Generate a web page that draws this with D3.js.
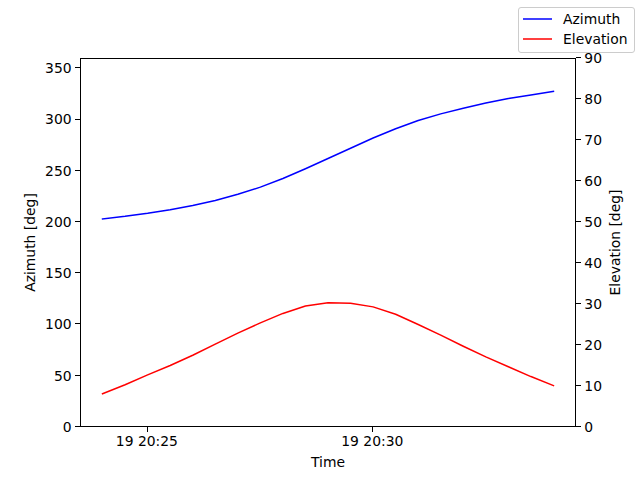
<!DOCTYPE html>
<html><head><meta charset="utf-8">
<script src="https://cdn.jsdelivr.net/npm/d3@7"></script>
<style>
body{margin:0;background:#fff;}
text{font-family:"DejaVu Sans",sans-serif;}
</style></head>
<body><svg id="c" width="640" height="480"></svg>
<script>
// time samples on 2000-01-19, every 30 s
const times = ["20:24:01","20:24:31","20:25:01","20:25:31","20:26:01","20:26:31","20:27:01","20:27:31","20:28:01","20:28:31","20:29:01","20:29:31","20:30:01","20:30:31","20:31:01","20:31:31","20:32:01","20:32:31","20:33:01","20:33:31","20:34:01"];
const azimuth = [203,205.5,208.5,212,216,221,227,234,242.5,252,262,272,282,291,299,305.5,311,316,320.5,324,327.5];
const elevation = [8.1,10.3,12.7,15.0,17.5,20.2,22.9,25.4,27.7,29.5,30.3,30.2,29.3,27.5,25.0,22.4,19.7,17.1,14.7,12.3,10.1];
const azTicks = [0,50,100,150,200,250,300,350];
const elTicks = [0,10,20,30,40,50,60,70,80,90];
const xTicks = ["20:25:00","20:30:00"];
const xTickLabels = ["19 20:25","19 20:30"];

const parse = s => new Date("2000-01-19T" + s);
const tdata = times.map(parse);
const svg = d3.select("#c");
const L=80, R=576, T=58, B=427;
const fs = 13.9;
const t0 = tdata[0], t1 = tdata[tdata.length-1];
const span = t1 - t0;
const x = d3.scaleTime().domain([new Date(+t0 - span*0.05), new Date(+t1 + span*0.05)]).range([L,R]);
const yA = d3.scaleLinear().domain([0,360]).range([B,T]);
const yE = d3.scaleLinear().domain([0,90]).range([B,T]);

// lines
const lineA = d3.line().x((d,i)=>x(tdata[i])).y(d=>yA(d));
const lineE = d3.line().x((d,i)=>x(tdata[i])).y(d=>yE(d));
svg.append("path").attr("d", lineA(azimuth)).attr("fill","none").attr("stroke","#0000ff").attr("stroke-width",1.5).attr("stroke-linejoin","round").attr("stroke-linecap","square");
svg.append("path").attr("d", lineE(elevation)).attr("fill","none").attr("stroke","#ff0000").attr("stroke-width",1.5).attr("stroke-linejoin","round").attr("stroke-linecap","square");

// frame
svg.append("rect").attr("x",L+0.5).attr("y",T+0.5).attr("width",R-L-1).attr("height",B-T-1).attr("fill","none").attr("stroke","#000").attr("stroke-width",1).attr("shape-rendering","crispEdges");

const tl = 4.86;
// left ticks
azTicks.forEach(v=>{
  const yy = Math.round(yA(v))-0.5;
  svg.append("line").attr("x1",L-tl).attr("x2",L).attr("y1",yy).attr("y2",yy).attr("stroke","#000").attr("stroke-width",1).attr("shape-rendering","crispEdges");
  svg.append("text").attr("x",L-tl-3.5).attr("y",yA(v)).attr("dy","0.35em").attr("text-anchor","end").attr("font-size",fs).text(v);
});
// right ticks
elTicks.forEach(v=>{
  const yy = Math.round(yE(v))-0.5;
  svg.append("line").attr("x1",R).attr("x2",R+tl).attr("y1",yy).attr("y2",yy).attr("stroke","#000").attr("stroke-width",1).attr("shape-rendering","crispEdges");
  svg.append("text").attr("x",R+tl+3.5).attr("y",yE(v)).attr("dy","0.35em").attr("text-anchor","start").attr("font-size",fs).text(v);
});
// x ticks
xTicks.forEach((s,i)=>{
  const xx = Math.round(x(parse(s)))+0.5;
  svg.append("line").attr("x1",xx).attr("x2",xx).attr("y1",B).attr("y2",B+tl).attr("stroke","#000").attr("stroke-width",1).attr("shape-rendering","crispEdges");
  svg.append("text").attr("x",x(parse(s))).attr("y",B+tl+3.5+fs*0.76).attr("text-anchor","middle").attr("font-size",fs).text(xTickLabels[i]);
});
// axis labels
svg.append("text").attr("x",(L+R)/2).attr("y",467).attr("text-anchor","middle").attr("font-size",fs).text("Time");
svg.append("text").attr("transform","translate(35,"+((T+B)/2)+") rotate(-90)").attr("text-anchor","middle").attr("font-size",fs).text("Azimuth [deg]");
svg.append("text").attr("transform","translate(620,"+((T+B)/2)+") rotate(-90)").attr("text-anchor","middle").attr("font-size",fs).text("Elevation [deg]");

// legend
const lg = svg.append("g");
lg.append("rect").attr("x",518.5).attr("y",7.5).attr("width",116).attr("height",45).attr("rx",2.5).attr("fill","#fff").attr("fill-opacity",0.8).attr("stroke","#cccccc").attr("stroke-width",1);
[["Azimuth","#0000ff",19],["Elevation","#ff0000",39]].forEach(([n,c,yy])=>{
  lg.append("line").attr("x1",523).attr("x2",552).attr("y1",yy).attr("y2",yy).attr("stroke",c).attr("stroke-width",1.5);
  lg.append("text").attr("x",563).attr("y",yy).attr("dy","0.35em").attr("font-size",fs).text(n);
});
</script></body></html>
